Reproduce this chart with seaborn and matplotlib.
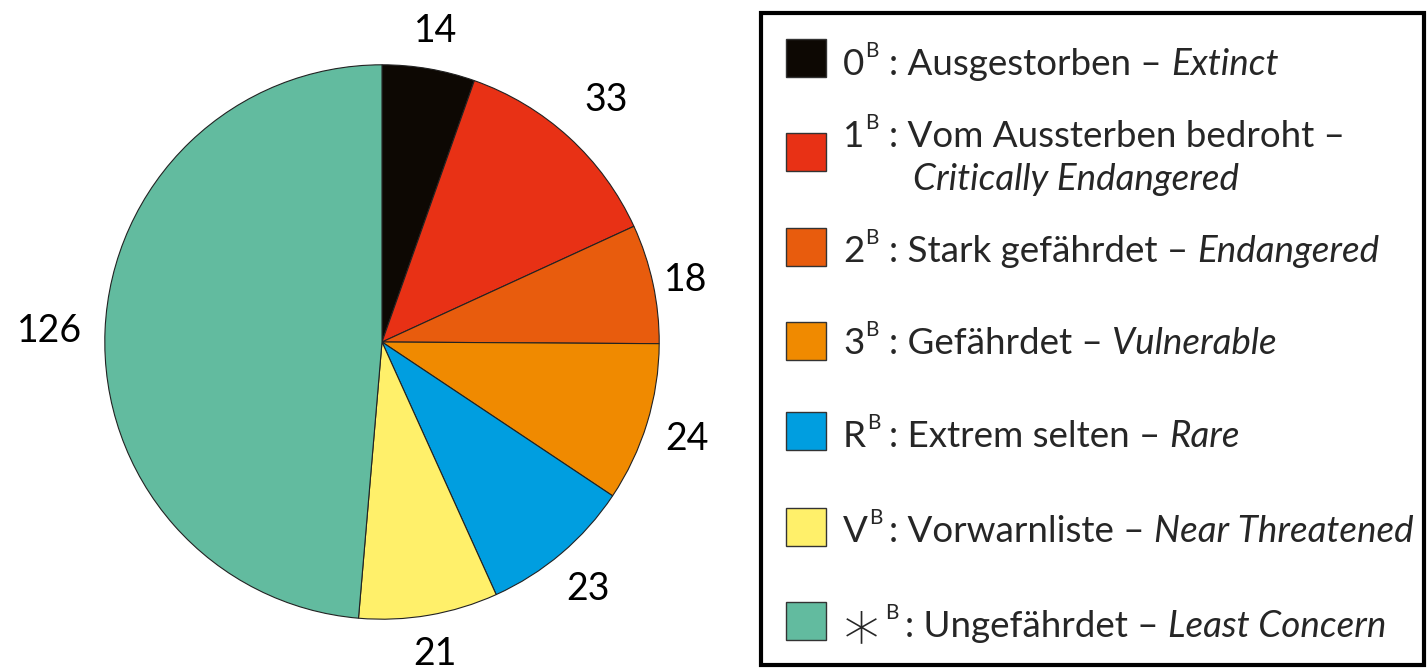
import matplotlib.pyplot as plt
import seaborn as sns
from matplotlib.patches import Rectangle

# Rote-Liste-Kategorien, Anzahl Arten
counts = [14, 33, 18, 24, 23, 21, 126]
codes = ["0", "1", "2", "3", "R", "V", "\u2217"]
german = ["Ausgestorben", "Vom Aussterben bedroht", "Stark gefährdet",
          "Gefährdet", "Extrem selten", "Vorwarnliste", "Ungefährdet"]
english = ["Extinct", "Critically Endangered", "Endangered", "Vulnerable",
           "Rare", "Near Threatened", "Least Concern"]
colors = ["#0d0803", "#e83115", "#e85c0d", "#f08a00", "#009ee0", "#fff06a", "#62bb9f"]

sns.set_theme(style="white")
plt.rcParams["font.family"] = ["Lato", "DejaVu Sans"]

W, H = 1428, 671
fig = plt.figure(figsize=(W / 100, H / 100), dpi=100)

# pie
ax = fig.add_axes([102 / W, 49 / H, 560 / W, 560 / H])
wedges, texts = ax.pie(counts, labels=[str(c) for c in counts],
                       colors=sns.color_palette(colors), startangle=90,
                       counterclock=False, radius=0.99, labeldistance=1.0,
                       wedgeprops=dict(edgecolor="#222222", linewidth=0.8),
                       textprops=dict(fontsize=27, color="black"))
label_dist = [1.15, 1.2, 1.12, 1.15, 1.15, 1.13, 1.2]
for t, d in zip(texts, label_dist):
    x, y = t.get_position()
    t.set_position((x * d, y * d))
    t.set_ha("center")
    t.set_va("center_baseline")
ax.set_xlim(-1, 1)
ax.set_ylim(-1, 1)
ax.set_aspect("auto")
ax.set_axis_off()

# legend drawn by hand in pixel coordinates
lg = fig.add_axes([0, 0, 1, 1])
lg.set_xlim(0, W)
lg.set_ylim(H, 0)
lg.set_axis_off()
lg.patch.set_alpha(0)
lg.add_patch(Rectangle((761, 13), 663, 652, fill=False, lw=3, ec="black"))

base = [75, 147, 262, 354, 447, 542, 637]
sq_mid = [58, 152, 247, 341, 431, 527, 621]
renderer = fig.canvas.get_renderer()
fs = 26.5
for i in range(len(counts)):
    lg.add_patch(Rectangle((786, sq_mid[i] - 19), 40, 38, fc=colors[i],
                           ec="#333333", lw=1))
    if codes[i] == "\u2217":
        c = lg.text(839, base[i] + 12, codes[i], fontsize=52, va="baseline",
                    ha="left", family="DejaVu Sans", weight="light")
    else:
        c = lg.text(843, base[i], codes[i], fontsize=fs, va="baseline", ha="left")
    cb = c.get_window_extent(renderer)
    b = lg.text(cb.x1 + 1, base[i] - 18, "B", fontsize=15, va="baseline", ha="left")
    bb = b.get_window_extent(renderer)
    x0 = max(bb.x1 + 6, 889)
    if i == 1:
        lg.text(x0, base[i], ": " + german[i] + " \u2013", fontsize=fs,
                va="baseline", ha="left")
        lg.text(913, base[i] + 43, english[i], fontsize=fs, style="italic",
                va="baseline", ha="left")
    else:
        g = lg.text(x0, base[i], ": " + german[i] + " \u2013 ", fontsize=fs,
                    va="baseline", ha="left")
        gb = g.get_window_extent(renderer)
        lg.text(gb.x1, base[i], english[i], fontsize=fs, style="italic",
                va="baseline", ha="left")

fig.savefig("out.png", dpi=100)
